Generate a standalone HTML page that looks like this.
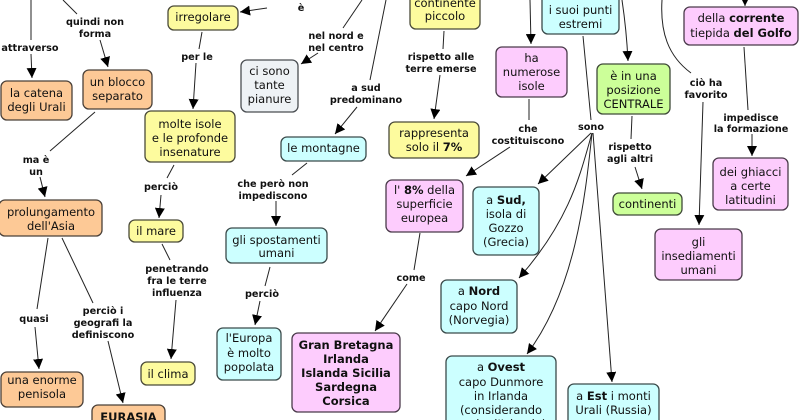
<!DOCTYPE html>
<html><head><meta charset="utf-8"><style>
html,body{margin:0;padding:0;background:#fff;}
svg{display:block;}
.n{font-family:"DejaVu Sans","Liberation Sans",sans-serif;font-size:11.5px;fill:#111;text-anchor:middle;}
.l{font-family:"DejaVu Sans","Liberation Sans",sans-serif;font-size:9.7px;font-weight:bold;fill:#111;text-anchor:middle;}
.b{font-weight:bold;}
.ln{stroke:#222;stroke-width:1;fill:none;}
.or{fill:#fdc996;stroke:#4a4038;stroke-width:1.3;}
.ye{fill:#fdfb9e;stroke:#4a4a38;stroke-width:1.3;}
.cy{fill:#ccffff;stroke:#3a4a4a;stroke-width:1.3;}
.pk{fill:#fdccfd;stroke:#4a3a4a;stroke-width:1.3;}
.gr{fill:#ccff99;stroke:#3f4a38;stroke-width:1.3;}
.gy{fill:#eef2f5;stroke:#4a4e52;stroke-width:1.3;}
</style></head><body>
<svg width="800" height="420" viewBox="0 0 800 420" xmlns="http://www.w3.org/2000/svg">
<defs>
<marker id="a" markerUnits="userSpaceOnUse" markerWidth="10" markerHeight="10" viewBox="0 0 10 10" refX="10" refY="5" orient="auto">
<path d="M0,0 L10,5 L0,10 z" fill="#000"/>
</marker>
</defs>

<!-- connectors -->
<g class="ln">
<line x1="31" y1="0" x2="31" y2="40"/>
<line x1="31" y1="54" x2="32" y2="78" marker-end="url(#a)"/>
<line x1="63" y1="0" x2="77" y2="14"/>
<line x1="100" y1="40" x2="108" y2="67" marker-end="url(#a)"/>
<line x1="95" y1="112" x2="50" y2="151"/>
<line x1="40" y1="177" x2="45" y2="197" marker-end="url(#a)"/>
<line x1="267" y1="8" x2="240" y2="12" marker-end="url(#a)"/>
<line x1="202" y1="32" x2="199" y2="49"/>
<line x1="196" y1="63" x2="193" y2="109" marker-end="url(#a)"/>
<line x1="174" y1="165" x2="167" y2="178"/>
<line x1="161" y1="195" x2="159" y2="218" marker-end="url(#a)"/>
<line x1="162" y1="244" x2="170" y2="260"/>
<line x1="176" y1="300" x2="171" y2="359" marker-end="url(#a)"/>
<line x1="48" y1="238" x2="37" y2="309"/>
<line x1="35" y1="327" x2="39" y2="369" marker-end="url(#a)"/>
<line x1="62" y1="238" x2="93" y2="303"/>
<line x1="108" y1="341" x2="123" y2="403" marker-end="url(#a)"/>
<line x1="362" y1="0" x2="343" y2="28"/>
<line x1="318" y1="53" x2="301" y2="64" marker-end="url(#a)"/>
<line x1="386" y1="0" x2="370" y2="80"/>
<line x1="357" y1="107" x2="335" y2="134" marker-end="url(#a)"/>
<line x1="307" y1="163" x2="292" y2="175"/>
<line x1="276" y1="201" x2="276" y2="226" marker-end="url(#a)"/>
<line x1="270" y1="267" x2="265" y2="286"/>
<line x1="260" y1="301" x2="255" y2="325" marker-end="url(#a)"/>
<line x1="420" y1="233" x2="414" y2="270"/>
<line x1="407" y1="284" x2="375" y2="331" marker-end="url(#a)"/>
<line x1="444" y1="31" x2="443" y2="49"/>
<line x1="440" y1="75" x2="434" y2="119" marker-end="url(#a)"/>
<line x1="530" y1="0" x2="531" y2="44" marker-end="url(#a)"/>
<line x1="529" y1="99" x2="529" y2="120"/>
<line x1="510" y1="147" x2="466" y2="176" marker-end="url(#a)"/>
<line x1="583" y1="36" x2="591" y2="120"/>
<line x1="591" y1="133" x2="538" y2="184" marker-end="url(#a)"/>
<path d="M592,133 C580,175 570,220 519,278" marker-end="url(#a)"/>
<path d="M592,133 C585,200 575,290 527,354" marker-end="url(#a)"/>
<line x1="593" y1="133" x2="612" y2="382" marker-end="url(#a)"/>
<path d="M622,0 C625,20 627,40 628,61" marker-end="url(#a)"/>
<line x1="632" y1="116" x2="631" y2="139"/>
<line x1="635" y1="167" x2="642" y2="189" marker-end="url(#a)"/>
<path d="M662,0 C660,32 668,56 691,73"/>
<line x1="703" y1="102" x2="699" y2="225" marker-end="url(#a)"/>
<line x1="745" y1="-5" x2="745" y2="6" marker-end="url(#a)"/>
<line x1="744" y1="47" x2="748" y2="110"/>
<line x1="752" y1="134" x2="752" y2="156" marker-end="url(#a)"/>
</g>

<!-- labels -->
<text class="l" x="30" y="51">attraverso</text>
<text class="l" x="95" y="25">quindi non</text>
<text class="l" x="95" y="37">forma</text>
<text class="l" x="36" y="163">ma è</text>
<text class="l" x="36" y="175">un</text>
<text class="l" x="197" y="60">per le</text>
<text class="l" x="161" y="190">perciò</text>
<text class="l" x="34" y="322">quasi</text>
<text class="l" x="103" y="314">perciò i</text>
<text class="l" x="103" y="326">geografi la</text>
<text class="l" x="103" y="338">definiscono</text>
<text class="l" x="177" y="272">penetrando</text>
<text class="l" x="177" y="284">fra le terre</text>
<text class="l" x="177" y="296">influenza</text>
<text class="l" x="301" y="11">è</text>
<text class="l" x="336" y="39">nel nord e</text>
<text class="l" x="336" y="51">nel centro</text>
<text class="l" x="366" y="91">a sud</text>
<text class="l" x="366" y="103">predominano</text>
<text class="l" x="273" y="187">che però non</text>
<text class="l" x="273" y="199">impediscono</text>
<text class="l" x="262" y="297">perciò</text>
<text class="l" x="441" y="60">rispetto alle</text>
<text class="l" x="441" y="72">terre emerse</text>
<text class="l" x="411" y="281">come</text>
<text class="l" x="528" y="132">che</text>
<text class="l" x="528" y="144">costituiscono</text>
<text class="l" x="591" y="130">sono</text>
<text class="l" x="630" y="150">rispetto</text>
<text class="l" x="630" y="162">agli altri</text>
<text class="l" x="706" y="86">ciò ha</text>
<text class="l" x="706" y="98">favorito</text>
<text class="l" x="751" y="121">impedisce</text>
<text class="l" x="751" y="132">la formazione</text>

<!-- nodes -->
<rect class="or" x="1" y="81" width="71" height="39" rx="6"/>
<text class="n" x="36.5" y="97">la catena</text>
<text class="n" x="36.5" y="111">degli Urali</text>

<rect class="or" x="83" y="70" width="69" height="39" rx="6"/>
<text class="n" x="117.5" y="86">un blocco</text>
<text class="n" x="117.5" y="100">separato</text>

<rect class="or" x="-1" y="200" width="103" height="36" rx="6"/>
<text class="n" x="51" y="216">prolungamento</text>
<text class="n" x="51" y="230">dell'Asia</text>

<rect class="or" x="1" y="372" width="82" height="35" rx="6"/>
<text class="n" x="42" y="384">una enorme</text>
<text class="n" x="42" y="398">penisola</text>

<rect class="or" x="92" y="405" width="73" height="22" rx="6"/>
<text class="n b" x="128.5" y="421">EURASIA</text>

<rect class="ye" x="168" y="6" width="70" height="24" rx="6"/>
<text class="n" x="203" y="21">irregolare</text>

<rect class="ye" x="145" y="111" width="90" height="51" rx="6"/>
<text class="n" x="190" y="128">molte isole</text>
<text class="n" x="190" y="142">e le profonde</text>
<text class="n" x="190" y="156">insenature</text>

<rect class="ye" x="129" y="220" width="54" height="22" rx="6"/>
<text class="n" x="156" y="235">il mare</text>

<rect class="ye" x="141" y="362" width="54" height="23" rx="6"/>
<text class="n" x="168" y="378">il clima</text>

<rect class="gy" x="241" y="60" width="57" height="52" rx="6"/>
<text class="n" x="269.5" y="75">ci sono</text>
<text class="n" x="269.5" y="89">tante</text>
<text class="n" x="269.5" y="103">pianure</text>

<rect class="cy" x="281" y="137" width="85" height="24" rx="6"/>
<text class="n" x="323.5" y="152">le montagne</text>

<rect class="cy" x="226" y="228" width="101" height="35" rx="6"/>
<text class="n" x="276.5" y="244">gli spostamenti</text>
<text class="n" x="276.5" y="257">umani</text>

<rect class="cy" x="217" y="328" width="64" height="52" rx="6"/>
<text class="n" x="249" y="342">l'Europa</text>
<text class="n" x="249" y="357">è molto</text>
<text class="n" x="249" y="371">popolata</text>

<rect class="pk" x="292" y="333" width="108" height="79" rx="6"/>
<text class="n b" x="346" y="349">Gran Bretagna</text>
<text class="n b" x="346" y="363">Irlanda</text>
<text class="n b" x="346" y="377">Islanda Sicilia</text>
<text class="n b" x="346" y="391">Sardegna</text>
<text class="n b" x="346" y="405">Corsica</text>

<rect class="ye" x="410" y="-12" width="70" height="41" rx="6"/>
<text class="n" x="445" y="7">continente</text>
<text class="n" x="445" y="20">piccolo</text>

<rect class="ye" x="389" y="122" width="90" height="36" rx="6"/>
<text class="n" x="434" y="137">rappresenta</text>
<text class="n" x="434" y="151">solo il <tspan class="b">7%</tspan></text>

<rect class="pk" x="386" y="180" width="77" height="52" rx="6"/>
<text class="n" x="424.5" y="194">l' <tspan class="b">8%</tspan> della</text>
<text class="n" x="424.5" y="208">superficie</text>
<text class="n" x="424.5" y="222">europea</text>

<rect class="pk" x="496" y="47" width="71" height="50" rx="6"/>
<text class="n" x="531.5" y="62">ha</text>
<text class="n" x="531.5" y="76">numerose</text>
<text class="n" x="531.5" y="90">isole</text>

<rect class="cy" x="542" y="-6" width="77" height="40" rx="6"/>
<text class="n" x="580.5" y="14">i suoi punti</text>
<text class="n" x="580.5" y="28">estremi</text>

<rect class="gr" x="597" y="64" width="73" height="50" rx="6"/>
<text class="n" x="633.5" y="80">è in una</text>
<text class="n" x="633.5" y="94">posizione</text>
<text class="n" x="633.5" y="108">CENTRALE</text>

<rect class="gr" x="613" y="193" width="69" height="22" rx="6"/>
<text class="n" x="647.5" y="208">continenti</text>

<rect class="pk" x="684" y="7" width="114" height="38" rx="6"/>
<text class="n" x="741" y="22">della <tspan class="b">corrente</tspan></text>
<text class="n" x="741" y="37">tiepida <tspan class="b">del Golfo</tspan></text>

<rect class="pk" x="713" y="158" width="75" height="52" rx="6"/>
<text class="n" x="750.5" y="176">dei ghiacci</text>
<text class="n" x="750.5" y="190">a certe</text>
<text class="n" x="750.5" y="204">latitudini</text>

<rect class="pk" x="655" y="229" width="87" height="51" rx="6"/>
<text class="n" x="698.5" y="246">gli</text>
<text class="n" x="698.5" y="260">insediamenti</text>
<text class="n" x="698.5" y="274">umani</text>

<rect class="cy" x="473" y="187" width="66" height="68" rx="6"/>
<text class="n" x="506" y="204">a <tspan class="b">Sud,</tspan></text>
<text class="n" x="506" y="218">isola di</text>
<text class="n" x="506" y="232">Gozzo</text>
<text class="n" x="506" y="246">(Grecia)</text>

<rect class="cy" x="441" y="280" width="76" height="53" rx="6"/>
<text class="n" x="479" y="295">a <tspan class="b">Nord</tspan></text>
<text class="n" x="479" y="310">capo Nord</text>
<text class="n" x="479" y="324">(Norvegia)</text>

<rect class="cy" x="446" y="356" width="110" height="80" rx="6"/>
<text class="n" x="501" y="371">a <tspan class="b">Ovest</tspan></text>
<text class="n" x="501" y="386">capo Dunmore</text>
<text class="n" x="501" y="400">in Irlanda</text>
<text class="n" x="501" y="414">(considerando</text>
<text class="n" x="501" y="428">anche l'Islanda)</text>

<rect class="cy" x="568" y="384" width="91" height="44" rx="6"/>
<text class="n" x="613.5" y="400">a <tspan class="b">Est</tspan> i monti</text>
<text class="n" x="613.5" y="414">Urali (Russia)</text>
</svg>
</body></html>
